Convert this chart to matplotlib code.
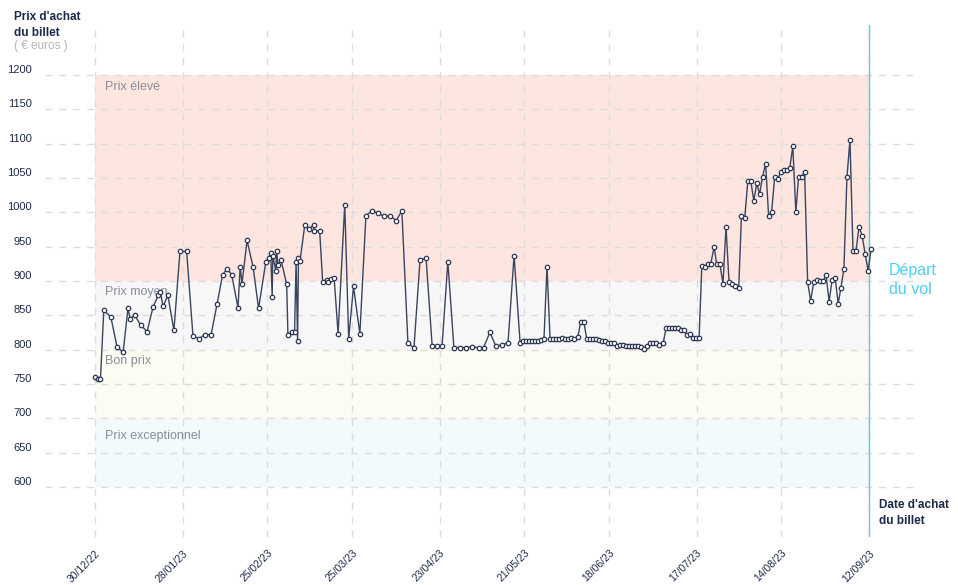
import matplotlib
matplotlib.use("Agg")
import matplotlib.pyplot as plt

plt.rcParams['font.family'] = ['Liberation Sans', 'DejaVu Sans']

# jours depuis le 30/12/22 et prix relevés (euros)
jours = [0, 1.0, 1.8, 2.9, 5.2, 7.3, 9.3, 10.9, 11.6, 13.1, 15.1, 17.2, 19.2, 20.9,
         21.6, 22.5, 24.1, 26.1, 28.1, 30.3, 32.4, 34.4, 36.3, 38.4, 40.4, 42.2,
         43.7, 45.2, 47.3, 48.0, 48.6, 50.3, 52.3, 54.1, 56.5, 57.5, 58.1, 58.6,
         58.8, 59.8, 60.1, 60.5, 61.5, 63.4, 63.8, 65.0, 66.0, 66.5, 67.0, 67.3,
         67.8, 69.4, 70.9, 72.3, 72.4, 74.3, 75.3, 76.7, 77.2, 78.2, 79.1, 80.4,
         82.6, 83.9, 85.5, 87.6, 89.6, 91.6, 93.6, 95.6, 97.6, 99.6, 101.5, 103.5,
         105.5, 107.5, 109.5, 111.5, 113.1, 114.8, 116.7, 118.7, 120.7, 122.7,
         124.7, 126.9, 128.5, 130.6, 132.6, 134.6, 136.6, 138.6, 140.6, 141.6,
         142.6, 143.6, 144.6, 145.6, 146.6, 147.5, 148.5, 149.5, 150.5, 151.5,
         152.5, 153.5, 154.5, 155.5, 156.5, 157.4, 158.4, 159.7, 160.6, 161.7,
         162.6, 163.7, 164.7, 165.7, 166.7, 167.7, 168.7, 169.7, 170.7, 171.7,
         172.7, 173.6, 174.6, 175.6, 176.6, 177.6, 178.6, 179.6, 180.6, 181.6,
         182.6, 183.6, 184.6, 185.6, 186.6, 187.9, 188.9, 189.9, 190.8, 191.8,
         192.8, 193.8, 194.8, 195.8, 196.8, 197.8, 198.8, 199.8, 200.7, 201.7,
         202.7, 203.6, 204.8, 205.6, 206.7, 207.7, 208.7, 209.7, 210.7, 211.7,
         212.9, 213.8, 214.9, 215.9, 216.9, 217.9, 218.9, 219.8, 220.8, 221.8,
         222.8, 223.8, 224.8, 225.8, 226.8, 227.8, 228.8, 229.8, 230.8, 231.8,
         232.7, 233.7, 234.7, 235.7, 236.7, 237.7, 238.8, 239.8, 240.8, 241.8,
         242.8, 243.8, 244.8, 245.8, 246.7, 247.7, 248.7, 249.7, 250.7, 251.7,
         252.7, 253.7, 254.7, 255.7, 256.7]
prix = [760, 757, 757, 857, 848, 804, 796, 860, 845, 850, 836, 826, 862, 879,
        884, 863, 879, 828, 943, 943, 820, 816, 822, 822, 867, 909,
        918, 909, 861, 921, 896, 959, 920, 860, 928, 934, 941, 877,
        937, 915, 943, 923, 931, 895, 822, 826, 826, 928, 813, 934,
        929, 982, 976, 982, 973, 973, 898, 901, 898, 903, 904, 823,
        1011, 816, 892, 823, 995, 1002, 999, 994, 995, 988, 1002, 809,
        803, 931, 933, 806, 806, 806, 928, 803, 803, 803,
        804, 803, 803, 825, 805, 807, 810, 937, 810, 813,
        813, 813, 813, 813, 813, 814, 816, 921, 816, 816,
        816, 816, 817, 816, 816, 817, 816, 818, 840, 840,
        816, 816, 816, 816, 814, 813, 813, 810, 810, 810,
        806, 807, 807, 806, 806, 806, 806, 806, 804, 801,
        806, 809, 809, 809, 807, 809, 832, 832, 832, 832,
        832, 828, 828, 822, 823, 817, 817, 817, 922, 921,
        925, 924, 950, 924, 924, 896, 979, 899, 895, 893,
        890, 994, 992, 1045, 1045, 1017, 1043, 1026, 1052, 1071,
        994, 1001, 1052, 1049, 1058, 1062, 1062, 1065, 1096, 1000,
        1052, 1052, 1059, 898, 871, 898, 902, 900, 900, 908,
        870, 902, 905, 867, 890, 918, 1051, 1106, 944, 944,
        979, 966, 940, 915, 947]

# zones de prix
zones = ["Prix élevé", "Prix moyen", "Bon prix", "Prix exceptionnel"]
zones_bas = [900, 800, 700, 600]
zones_haut = [1200, 900, 800, 700]
zones_couleurs = ["#fde6df", "#f7f7f8", "#fcfcf2", "#f1fafd"]
zones_label_y = [1182, 884, 784, 674]

graduations_y = [600, 650, 700, 750, 800, 850, 900, 950, 1000, 1050, 1100, 1150, 1200]
graduations_jours = [0, 29, 57, 85, 114, 142, 170, 199, 227, 256]
etiquettes_dates = ["30/12/22", "28/01/23", "25/02/23", "25/03/23", "23/04/23",
                    "21/05/23", "18/06/23", "17/07/23", "14/08/23", "12/09/23"]
jour_depart = 256

navy = "#1b2a4a"
gris_texte = "#8a8d99"
bleu = "#4fcdf2"

fig = plt.figure(figsize=(9.58, 5.85), dpi=100)
ax = fig.add_axes([45 / 958, 1 - 537 / 585, 873 / 958, 512 / 585])
ax.set_xlim(-16.54, 272.2)
ax.set_ylim(527.1, 1272.8)

# bandes colorées
for nom, bas, haut, coul, ly in zip(zones, zones_bas, zones_haut, zones_couleurs,
                                    zones_label_y):
    ax.fill_between([0, jour_depart], bas, haut, color=coul, lw=0, zorder=0)
    ax.text(3.3, ly, nom, color=gris_texte, fontsize=9, va='center',
            ha='left', zorder=1)

# grille
for y in graduations_y:
    ax.axhline(y, color="#dcdcdc", lw=1, ls=(0, (5, 5)), zorder=0.5)
for j in graduations_jours:
    ax.axvline(j, color="#dcdcdc", lw=1, ls=(0, (5, 5)), zorder=0.5)
ax.axvline(jour_depart, color=bleu, lw=1, zorder=2)

ax.plot(jours, prix, color="#3a4560", lw=1, marker='o', markersize=3.2,
        markerfacecolor='white', markeredgecolor="#2c3754", markeredgewidth=0.9,
        zorder=3)

ax.set_yticks(graduations_y)
ax.set_yticklabels([str(v) for v in graduations_y])
ax.tick_params(axis='y', length=0, pad=9.5, labelsize=8, labelcolor=navy)
for lbl in ax.get_yticklabels():
    lbl.set_va('bottom')

ax.set_xticks(graduations_jours)
ax.set_xticklabels(etiquettes_dates, rotation=45, ha='right', va='top',
                   rotation_mode='anchor')
ax.tick_params(axis='x', length=0, pad=8, labelsize=7.5, labelcolor=navy)

for s in ax.spines.values():
    s.set_visible(False)

# titres des axes
fig.text(14 / 958, 1 - 17 / 585, "Prix d'achat", fontsize=8.5, fontweight='bold',
         color=navy, va='center')
fig.text(14 / 958, 1 - 33 / 585, "du billet", fontsize=8.5, fontweight='bold',
         color=navy, va='center')
fig.text(14 / 958, 1 - 46 / 585, "( € euros )", fontsize=8.5, color="#b5b5b5",
         va='center')
fig.text(879 / 958, 1 - 505 / 585, "Date d'achat", fontsize=8.5, fontweight='bold',
         color=navy, va='center')
fig.text(879 / 958, 1 - 521 / 585, "du billet", fontsize=8.5, fontweight='bold',
         color=navy, va='center')
fig.text(889 / 958, 1 - 270 / 585, "Départ", fontsize=11.5, color=bleu, va='center')
fig.text(889 / 958, 1 - 290 / 585, "du vol", fontsize=11.5, color=bleu, va='center')

fig.savefig("out.png", dpi=100)
